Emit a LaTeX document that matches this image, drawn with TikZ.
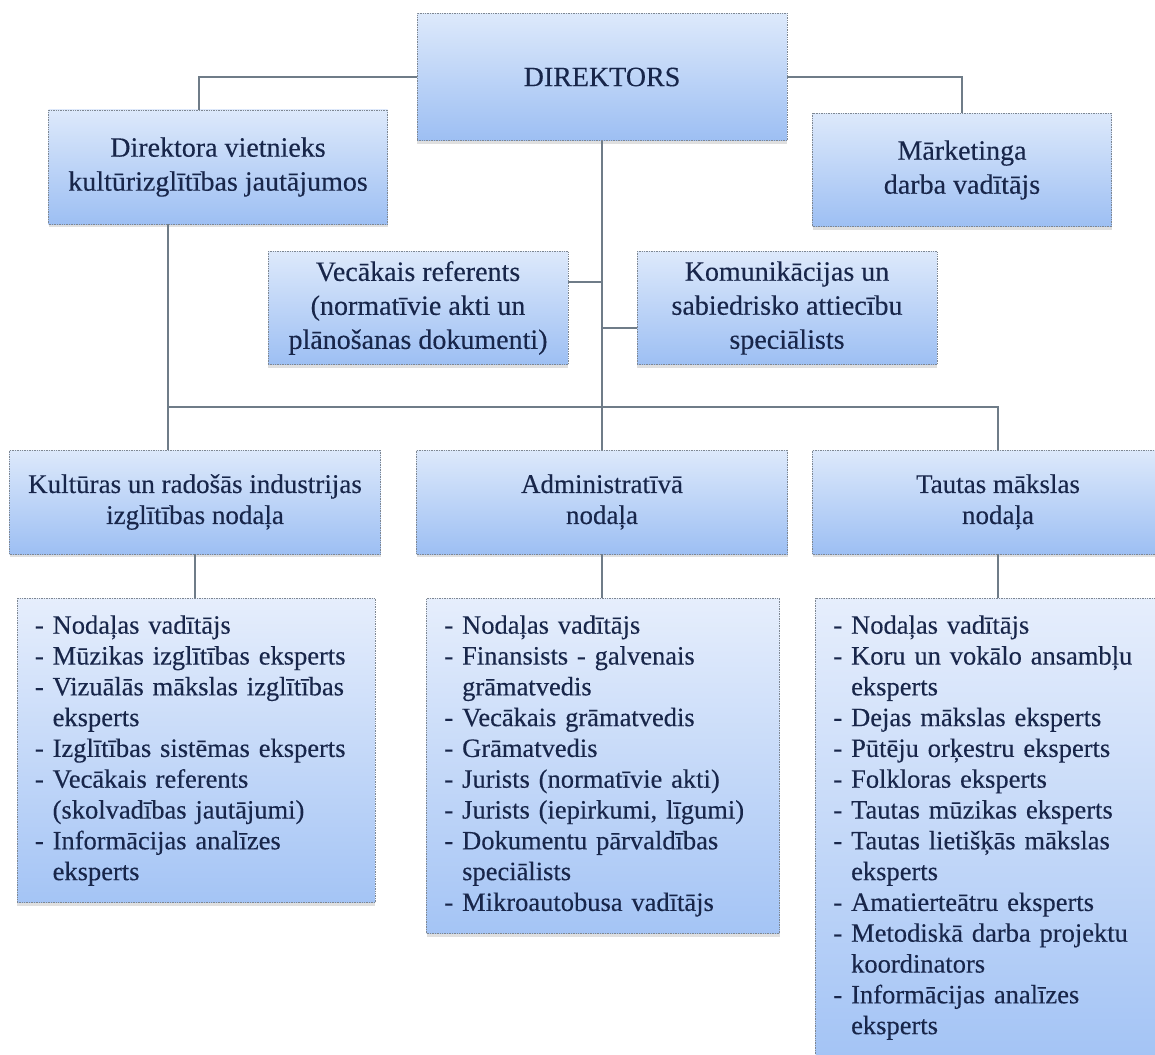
\documentclass[tikz,border=0pt]{standalone}
\usepackage{fontspec}
\setmainfont{Liberation Serif}[FakeBold=0.25]
\usetikzlibrary{shadows}
\definecolor{boxtop}{HTML}{DDE9FB}
\definecolor{boxbot}{HTML}{9DBFF3}
\definecolor{listtop}{HTML}{E6EEFC}
\definecolor{listbot}{HTML}{A4C4F5}
\definecolor{txt}{HTML}{18264A}
\definecolor{edgecol}{HTML}{6F7C88}
\definecolor{rim}{HTML}{7E8792}
\newcommand{\ind}{\hphantom{-~}}

\begin{document}
\begin{tikzpicture}[x=1pt,y=-1pt,
    box/.style={draw=rim,densely dotted,line width=0.7pt,top color=boxtop,bottom color=boxbot,
      drop shadow={opacity=0.25,shadow xshift=0pt,shadow yshift=-3pt},
      text=txt,align=center,inner sep=0pt},
    head/.style={box,font=\fontsize{28}{34}\selectfont},
    mid/.style={box,font=\fontsize{28}{34}\selectfont,minimum width=300,minimum height=113},
    dept/.style={box,font=\fontsize{27}{31}\selectfont,minimum width=371,minimum height=104},
    list/.style={box,top color=listtop,bottom color=listbot,font=\fontsize{26.5}{30.8}\selectfont,
      align=left,anchor=north,inner xsep=18pt,inner ysep=17pt},
    link/.style={draw=edgecol,line width=1.4pt}]
  \useasboundingbox (0,0) rectangle (1155,1054);
  \clip (0,0) rectangle (1155,1054);
  \fill[white] (0,0) rectangle (1155,1054);

  \node[head,minimum width=370,minimum height=127] (dir)  at (602,77)  {DIREKTORS};
  \node[head,minimum width=339,minimum height=114] (viet) at (218,167) {Direktora vietnieks\\kultūrizglītības jautājumos};
  \node[head,minimum width=299,minimum height=113] (mark) at (962,170) {Mārketinga\\darba vadītājs};
  \node[mid] (ref) at (418,308) {Vecākais referents\\(normatīvie akti un\\plānošanas dokumenti)};
  \node[mid] (kom) at (787,308) {Komunikācijas un\\sabiedrisko attiecību\\speciālists};

  \node[dept] (kult) at (195,502) {Kultūras un radošās industrijas\\izglītības nodaļa};
  \node[dept] (adm)  at (602,502) {Administratīvā\\nodaļa};
  \node[dept] (taut) at (998,502) {Tautas mākslas\\nodaļa};

  \node[list,text width=322] (kl) at (196,598) {- Nodaļas vadītājs\\- Mūzikas izglītības eksperts\\- Vizuālās mākslas izglītības\\\ind eksperts\\- Izglītības sistēmas eksperts\\- Vecākais referents\\\ind (skolvadības jautājumi)\\- Informācijas analīzes\\\ind eksperts};
  \node[list,text width=317] (al) at (603,598) {- Nodaļas vadītājs\\- Finansists - galvenais\\\ind grāmatvedis\\- Vecākais grāmatvedis\\- Grāmatvedis\\- Jurists (normatīvie akti)\\- Jurists (iepirkumi, līgumi)\\- Dokumentu pārvaldības\\\ind speciālists\\- Mikroautobusa vadītājs};
  \node[list,text width=319] (tl) at (993,598) {- Nodaļas vadītājs\\- Koru un vokālo ansambļu\\\ind eksperts\\- Dejas mākslas eksperts\\- Pūtēju orķestru eksperts\\- Folkloras eksperts\\- Tautas mūzikas eksperts\\- Tautas lietišķās mākslas\\\ind eksperts\\- Amatierteātru eksperts\\- Metodiskā darba projektu\\\ind koordinators\\- Informācijas analīzes\\\ind eksperts};

  \draw[link] (dir.west) -| ([xshift=-19pt]viet.north);
  \draw[link] (dir.east) -| (mark.north);
  \draw[link] (dir.south) -- (adm.north);
  \draw[link] ([yshift=26pt]ref.east) -- ([yshift=26pt]ref.east -| dir.south);
  \draw[link] ([yshift=-20pt]kom.west) -- ([yshift=-20pt]kom.west -| dir.south);
  \draw[link] ([xshift=-50pt]viet.south) -- ([xshift=-27pt]kult.north);
  \coordinate (bus) at (168,407);
  \draw[link] (bus) -| (taut.north);
  \path[link] (kult.south) edge (kult.south |- kl.north)
              (adm.south)  edge (adm.south |- al.north)
              (taut.south) edge (taut.south |- tl.north);
\end{tikzpicture}
\end{document}
